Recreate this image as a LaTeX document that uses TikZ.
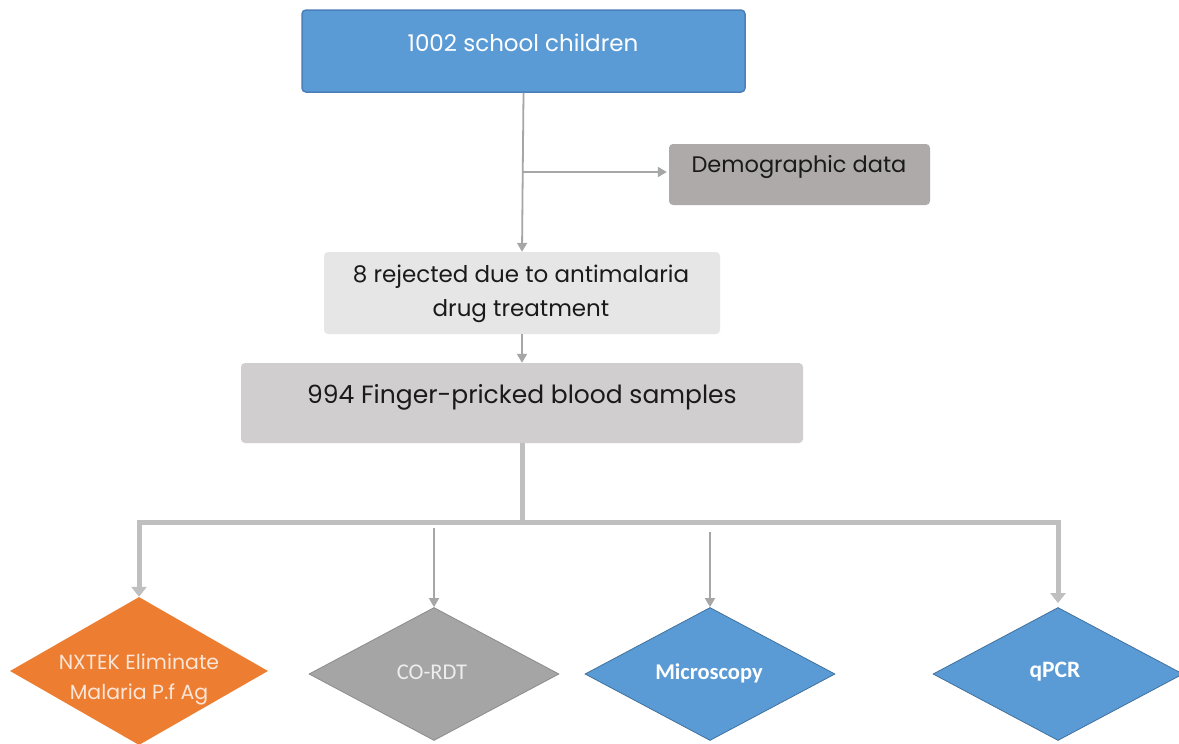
\documentclass[tikz,border=0pt]{standalone}
\usepackage{fontspec}
\setmainfont{Poppins}
\newfontfamily\calib{Carlito}
\usetikzlibrary{arrows.meta,shapes.geometric}
\definecolor{topblue}{HTML}{5B9BD5}
\definecolor{topblueb}{HTML}{4A7FBA}
\definecolor{demogray}{HTML}{AEAAAA}
\definecolor{rejgray}{HTML}{E7E6E6}
\definecolor{bloodgray}{HTML}{D0CECE}
\definecolor{orangef}{HTML}{ED7D31}
\definecolor{cogray}{HTML}{A5A5A5}
\definecolor{cograyb}{HTML}{8C8C8C}
\definecolor{diablueb}{HTML}{41719C}
\definecolor{conn}{HTML}{A6A6A6}
\definecolor{thickconn}{HTML}{BFBFBF}
\definecolor{textdark}{HTML}{1A1A1A}
\definecolor{nxtext}{HTML}{FBE5D6}
\definecolor{cotext}{HTML}{EDEDED}
\tikzset{
  box/.style={rectangle, rounded corners=4pt, inner sep=0pt},
  dia/.style={diamond, inner sep=0pt, minimum width=250pt, minimum height=133pt},
  thinarrow/.style={draw=conn, line width=1.8pt, -{Triangle[length=9pt,width=10pt]}},
  thickline/.style={draw=thickconn, line width=5pt},
  thickarrow/.style={draw=thickconn, line width=5pt, -{Triangle[length=10pt,width=15pt]}},
  boxtext/.style={font=\fontsize{23}{34}\selectfont, text=textdark, align=center, inner sep=0pt},
}
\begin{document}
\begin{tikzpicture}[x=1pt,y=-1pt]
\useasboundingbox (0,0) rectangle (1179,744);
\fill[white] (0,0) rectangle (1179,744);

% boxes
\node[box, fill=topblue, draw=topblueb, line width=1.5pt, minimum width=443pt, minimum height=82pt] (top) at (523.5,51) {};
\node[font=\fontsize{23}{27}\selectfont, text=white, inner sep=0pt] (toptext) at (523,43) {1002 school children};

\node[box, fill=demogray, minimum width=261pt, minimum height=61pt] (demo) at (799.5,174.5) {};
\node[boxtext, font=\fontsize{22.5}{27}\selectfont] (demotext) at (799,167) {Demographic data};

\node[box, fill=rejgray, minimum width=396pt, minimum height=82pt] (rej) at (522,293) {};
\node[boxtext] (rejtext) at (521,294) {8 rejected due to antimalaria\\drug treatment};

\node[box, fill=bloodgray, minimum width=562pt, minimum height=80pt] (blood) at (522,403) {};
\node[boxtext, font=\fontsize{25}{30}\selectfont] (bloodtext) at (522,397) {994 Finger-pricked blood samples};

% diamonds
\node[dia, fill=orangef, minimum width=258pt, minimum height=148pt] (nx) at (139,671) {};
\node[font=\fontsize{20.5}{30}\selectfont, text=nxtext, align=center, inner sep=0pt] (nxtext) at (139,679) {NXTEK Eliminate\\Malaria P.f Ag};

\node[dia, fill=cogray, draw=cograyb, line width=0.8pt] (co) at (434,674) {};
\node[font=\calib\fontsize{22.5}{26}\selectfont, text=cotext, inner sep=0pt] (cotext) at (432,672) {CO-RDT};

\node[dia, fill=topblue, draw=diablueb, line width=0.8pt] (mic) at (710,674) {};
\node[font=\calib\bfseries\fontsize{22.5}{26}\selectfont, text=white, inner sep=0pt] (mictext) at (709,673) {Microscopy};

\node[dia, fill=topblue, draw=diablueb, line width=0.8pt] (qpcr) at (1058,674) {};
\node[font=\calib\bfseries\fontsize{23.5}{27}\selectfont, text=white, inner sep=0pt] (qpcrtext) at (1055,672) {qPCR};

% connectors
\coordinate (br) at (522,172);
\draw[thinarrow] (top.south) -- (rej.north);
\draw[thinarrow, shorten >=2pt] (br) -- (br -| demo.west);
\draw[thinarrow] (rej.south) -- (blood.north);

\coordinate (hub) at (522,522);
\draw[thickline] (blood.south) -- (hub);
\draw[thickarrow] (hub) -| (nx.north);
\draw[thickarrow, shorten >=4pt] (hub) -| (qpcr.north);

\coordinate (c1) at (434,528);
\coordinate (c2) at (710,532);
\draw[thinarrow] (c1) -- (co.north);
\draw[thinarrow] (c2) -- (mic.north);
\end{tikzpicture}
\end{document}
